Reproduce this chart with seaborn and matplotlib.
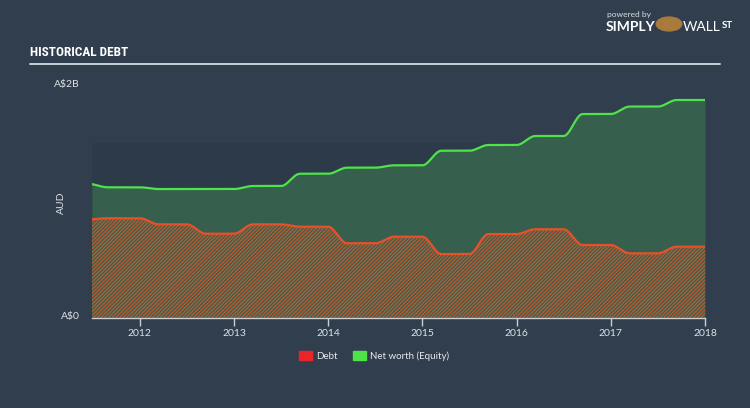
import numpy as np
import pandas as pd
import matplotlib
matplotlib.use("Agg")
import matplotlib.pyplot as plt
from matplotlib import font_manager
import seaborn as sns

# ---- data (A$ billions) ----
dates = [2011.49, 2011.66, 2012.0, 2012.2, 2012.5, 2012.7, 2013.0, 2013.2, 2013.5,
         2013.7, 2014.0, 2014.2, 2014.5, 2014.7, 2015.0, 2015.2, 2015.5, 2015.7,
         2016.0, 2016.2, 2016.5, 2016.7, 2017.0, 2017.2, 2017.5, 2017.7, 2018.0]
equity = [1.144, 1.116, 1.116, 1.101, 1.101, 1.101, 1.101, 1.127, 1.127,
          1.232, 1.232, 1.284, 1.284, 1.304, 1.304, 1.429, 1.429, 1.478,
          1.478, 1.555, 1.555, 1.743, 1.743, 1.807, 1.807, 1.863, 1.863]
debt = [0.842, 0.851, 0.851, 0.799, 0.799, 0.719, 0.719, 0.799, 0.799,
        0.779, 0.779, 0.637, 0.637, 0.693, 0.693, 0.545, 0.545, 0.716,
        0.716, 0.757, 0.757, 0.622, 0.622, 0.551, 0.551, 0.608, 0.608]
year_ticks = [2012, 2013, 2014, 2015, 2016, 2017, 2018]
legend_labels = ["Debt", "Net worth (Equity)"]


def monotone(x, y, xs):
    """Monotone cubic (Fritsch-Carlson) curve through the data points."""
    x = np.asarray(x, float); y = np.asarray(y, float)
    h = np.diff(x); d = np.diff(y) / h
    m = np.zeros_like(y)
    m[0], m[-1] = d[0], d[-1]
    for i in range(1, len(y) - 1):
        if d[i - 1] * d[i] <= 0:
            m[i] = 0
        else:
            w1 = 2 * h[i] + h[i - 1]; w2 = h[i] + 2 * h[i - 1]
            m[i] = (w1 + w2) / (w1 / d[i - 1] + w2 / d[i])
    idx = np.clip(np.searchsorted(x, xs) - 1, 0, len(x) - 2)
    t = (xs - x[idx]) / h[idx]
    h00 = 2 * t**3 - 3 * t**2 + 1; h10 = t**3 - 2 * t**2 + t
    h01 = -2 * t**3 + 3 * t**2; h11 = t**3 - t**2
    return h00 * y[idx] + h10 * h[idx] * m[idx] + h01 * y[idx + 1] + h11 * h[idx] * m[idx + 1]


xs = np.linspace(dates[0], dates[-1], 800)
df = pd.DataFrame({"t": xs,
                   "equity": monotone(dates, equity, xs),
                   "debt": monotone(dates, debt, xs)})

BG = "#313e4e"
sns.set_theme(style="white")
plt.rcParams["font.family"] = ["Lato", "DejaVu Sans"]
plt.rcParams["hatch.linewidth"] = 0.7

# pick the narrowest available family for the condensed title
names = {f.name for f in font_manager.fontManager.ttflist}
title_family = "DejaVu Sans"
for cand in ["Liberation Sans Narrow", "DejaVu Sans Condensed", "Roboto Condensed",
             "Open Sans Condensed", "Noto Sans Condensed"]:
    if cand in names:
        title_family = cand
        break

fig = plt.figure(figsize=(7.5, 4.08), dpi=100, facecolor=BG)
ax = fig.add_axes([0.1223, 0.2213, 0.8177, 0.5728])
ax.set_facecolor("none")

ax.set_xlim(dates[0], 2018.0)
ax.set_ylim(0, 2.0)

# darker panel
ax.axhspan(0, 1.495, color="#2c3a4a", zorder=0, lw=0)

ax.fill_between(df["t"], 0, df["equity"], color="#365f4d", lw=0, zorder=1)
ax.fill_between(df["t"], 0, df["debt"], facecolor="#46604a", edgecolor="#cf5a30",
                hatch="/////////", lw=0, zorder=2)
sns.lineplot(data=df, x="t", y="equity", ax=ax, color="#4fe34a", lw=1.6, zorder=4)
sns.lineplot(data=df, x="t", y="debt", ax=ax, color="#e8502a", lw=1.6, zorder=4)

for s in ["top", "right", "left"]:
    ax.spines[s].set_visible(False)
ax.spines["bottom"].set_color("#c9d0d6")
ax.spines["bottom"].set_linewidth(1.0)
ax.set_xticks(year_ticks)
ax.set_xticklabels([str(y) for y in year_ticks])
ax.tick_params(axis="x", colors="#c9d0d6", length=6, width=1, labelsize=7.5,
               labelcolor="#dde2e6", pad=2, bottom=True)
ax.set_yticks([])
ax.set_xlabel(""); ax.set_ylabel("")

# y labels
fig.text(80 / 750, 1 - 316 / 408, "A$0", ha="right", va="center", color="#dde2e6", fontsize=7.5)
fig.text(80 / 750, 1 - 85 / 408, "A$2B", ha="right", va="center", color="#dde2e6", fontsize=7.5)
fig.text(61 / 750, 1 - 203 / 408, "AUD", ha="center", va="center", rotation=90,
         color="#dde2e6", fontsize=7.5)

# title and rule
fig.text(30 / 750, 1 - 53 / 408, "HISTORICAL DEBT", ha="left", va="center", color="white",
         fontsize=9.5, fontweight="bold", family=[title_family, "DejaVu Sans"],
         fontstretch="condensed")
fig.add_artist(plt.Line2D([30 / 750, 720 / 750], [1 - 64 / 408] * 2, color="#c8d0d8", lw=1.4))

# logo text
fig.text(607 / 750, 1 - 14 / 408, "powered by", ha="left", va="center", color="#d8dde2", fontsize=6)
fig.text(606 / 750, 1 - 27 / 408, "SIMPLY", ha="left", va="center", color="white",
         fontsize=10, fontweight="bold")
fig.text(683 / 750, 1 - 27 / 408, "WALL", ha="left", va="center", color="white", fontsize=10)
fig.text(722 / 750, 1 - 25 / 408, "ST", ha="left", va="center", color="white", fontsize=7,
         fontweight="bold")
fig.add_artist(plt.Circle((669 / 750, 1 - 24 / 408), 0.017, transform=fig.transFigure,
                          color="#a87a3c"))

# legend
handles = [plt.Rectangle((0, 0), 1, 1, color="#e8262a"), plt.Rectangle((0, 0), 1, 1, color="#4fe34a")]
leg = fig.legend(handles, legend_labels, loc="center", bbox_to_anchor=(374 / 750, 1 - 356 / 408),
                 ncol=2, frameon=False, fontsize=7, handlelength=1.3, handleheight=1.0,
                 columnspacing=1.6, handletextpad=0.45)
for t in leg.get_texts():
    t.set_color("#e6eaee")

fig.savefig("out.png", dpi=100, facecolor=BG)
